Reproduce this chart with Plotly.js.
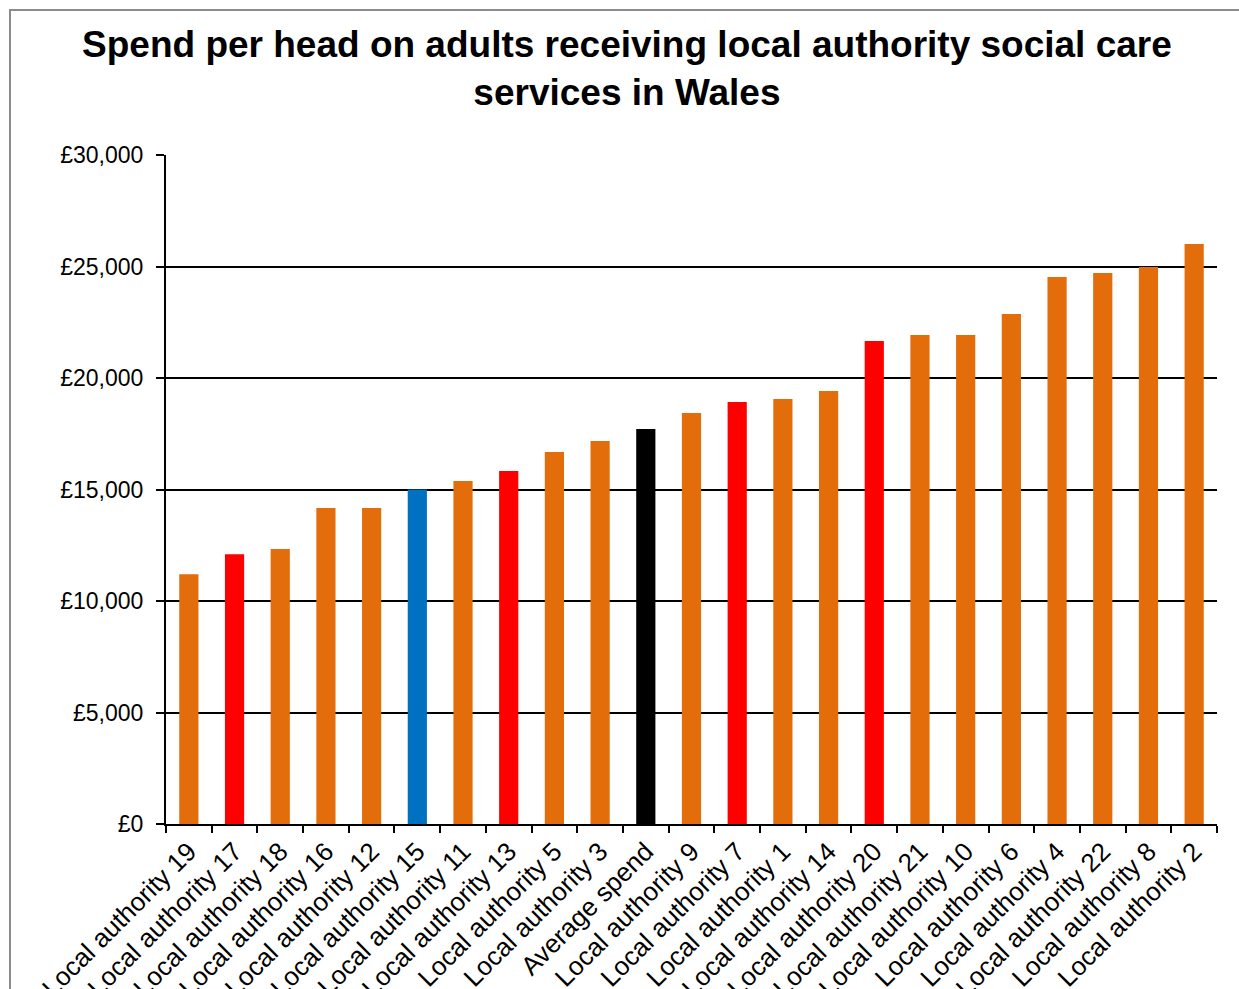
<!DOCTYPE html>
<html>
<head>
<meta charset="utf-8">
<script src="https://cdn.plot.ly/plotly-3.0.1.min.js"></script>
<style>
  html, body { margin: 0; padding: 0; background: #ffffff; }
  #chart { width: 1239px; height: 989px; }
</style>
</head>
<body>
<div id="chart"></div>
<script>
// Local authorities, ordered by spend per head
const categories = [
  "Local authority 19", "Local authority 17", "Local authority 18", "Local authority 16",
  "Local authority 12", "Local authority 15", "Local authority 11", "Local authority 13",
  "Local authority 5", "Local authority 3", "Average spend", "Local authority 9",
  "Local authority 7", "Local authority 1", "Local authority 14", "Local authority 20",
  "Local authority 21", "Local authority 10", "Local authority 6", "Local authority 4",
  "Local authority 22", "Local authority 8", "Local authority 2"
];

// Spend per head (£)
const spend = [
  11200, 12100, 12330, 14170,
  14170, 15000, 15380, 15830,
  16680, 17170, 17710, 18430,
  18920, 19060, 19420, 21660,
  21930, 21930, 22870, 24530,
  24710, 24980, 26010
];

// Highlight groups: "base", "red", "blue", "avg"
const groups = [
  "base", "red", "base", "base",
  "base", "blue", "base", "red",
  "base", "base", "avg", "base",
  "red", "base", "base", "red",
  "base", "base", "base", "base",
  "base", "base", "base"
];

const yTickValues = [0, 5000, 10000, 15000, 20000, 25000, 30000];
const yTickLabels = ["£0", "£5,000", "£10,000", "£15,000", "£20,000", "£25,000", "£30,000"];

const palette = { base: "#E26D0A", red: "#FF0000", blue: "#0070C0", avg: "#000000" };

const trace = {
  type: "bar",
  x: categories,
  y: spend,
  marker: { color: groups.map(g => palette[g]), line: { width: 0 } },
  hoverinfo: "x+y"
};

const font = "'Liberation Sans', Arial, sans-serif";

const layout = {
  width: 1239,
  height: 989,
  margin: { l: 166, r: 22, t: 155, b: 165, pad: 0 },
  paper_bgcolor: "#ffffff",
  plot_bgcolor: "#ffffff",
  bargap: 0.58,
  showlegend: false,
  title: {
    text: "Spend per head on adults receiving local authority social care<br>services in Wales",
    font: { family: font, size: 37, color: "#000000", weight: "bold" },
    xref: "container",
    x: 0.506,
    xanchor: "center",
    y: 0.942,
    yanchor: "top"
  },
  xaxis: {
    type: "category",
    tickangle: -45,
    tickfont: { family: font, size: 26, color: "#000000" },
    ticklabelstandoff: 0,
    showline: true,
    linecolor: "#000000",
    linewidth: 2,
    ticks: "outside",
    tickson: "boundaries",
    ticklen: 7,
    tickwidth: 2,
    tickcolor: "#000000",
    showgrid: false,
    automargin: false
  },
  yaxis: {
    range: [0, 30000],
    tickvals: yTickValues,
    ticktext: yTickLabels,
    tickfont: { family: font, size: 23, color: "#000000" },
    ticklabelstandoff: 8,
    showline: true,
    linecolor: "#000000",
    linewidth: 2,
    ticks: "outside",
    ticklen: 8,
    tickwidth: 2,
    tickcolor: "#000000",
    showgrid: true,
    gridcolor: "#000000",
    gridwidth: 2,
    zeroline: false,
    automargin: false
  },
  shapes: [
    {
      type: "rect",
      xref: "paper", yref: "paper",
      x0: (10 - 166) / 1051, x1: 1.2,
      y0: -0.6, y1: (824 - 10) / 669,
      line: { color: "#8c8c8c", width: 2 },
      fillcolor: "rgba(0,0,0,0)",
      layer: "below"
    }
  ]
};

Plotly.newPlot("chart", [trace], layout, { displayModeBar: false, responsive: false });
</script>
</body>
</html>
